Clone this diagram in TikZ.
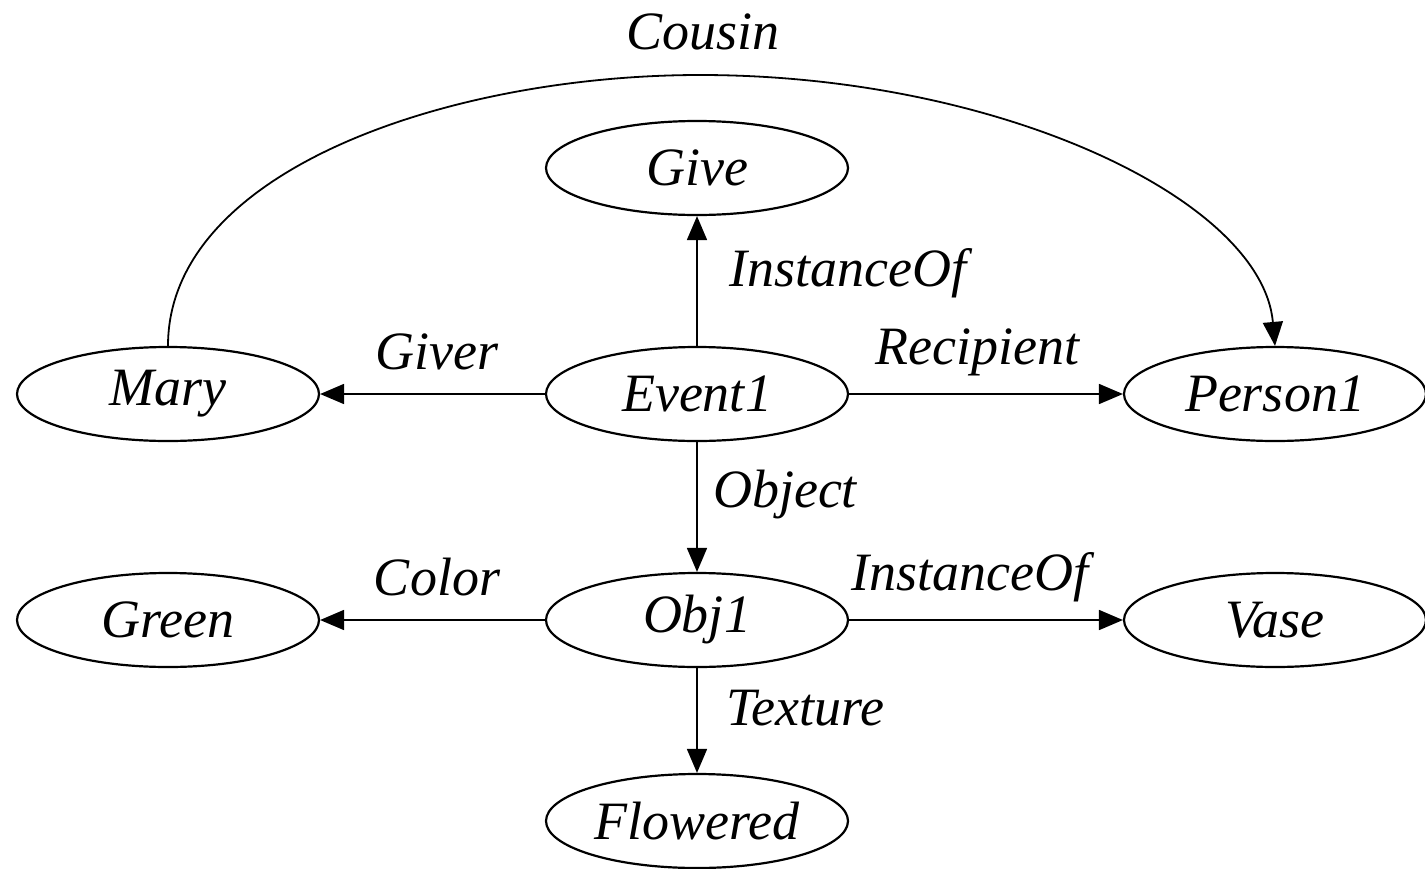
\documentclass[tikz,border=0pt]{standalone}
\usepackage{fontspec}
\setmainfont{Liberation Serif}
\usetikzlibrary{shapes.geometric,arrows.meta}
\begin{document}
\begin{tikzpicture}[x=0.5pt,y=-0.5pt,
  concept/.style={ellipse,draw,line width=1.1pt,minimum width=151pt,minimum height=47pt,inner sep=0pt,
    font=\fontsize{27}{32}\selectfont\itshape},
  rel/.style={font=\fontsize{27}{32}\selectfont\itshape,inner sep=0pt},
  edge/.style={line width=0.9pt,-{Triangle[length=12pt,width=10pt]}}]
\useasboundingbox (0,0) rectangle (1425,868);
% concept nodes
\node[concept] (give)     at (697,168) {Give};
\node[concept] (mary)     at (168,394) {Mary};
\node[concept] (event)    at (697,394) {Event1};
\node[concept] (person)   at (1275,394) {Person1};
\node[concept] (green)    at (168,620) {Green};
\node[concept] (obj)      at (697,620) {Obj1};
\node[concept] (vase)     at (1275,620) {Vase};
\node[concept] (flowered) at (697,821) {Flowered};
% relations
\draw[edge] (event) -- (give);
\draw[edge] (event) -- (mary);
\draw[edge] (event) -- (person);
\draw[edge] (event) -- (obj);
\draw[edge] (obj) -- (green);
\draw[edge] (obj) -- (vase);
\draw[edge] (obj) -- (flowered);
\coordinate (peak) at (700,75);
\draw[edge] (mary.north) .. controls (168,170) and (450,75) .. (peak)
  .. controls (1000,75) and (1262,200) .. (person.north);
% relation labels
\node[rel] (lcousin)  at (703,32)  {Cousin};
\node[rel] (linst1)   at (848,273) {InstanceOf};
\node[rel] (lgiver)   at (437,352) {Giver};
\node[rel] (lrecip)   at (977,352) {Recipient};
\node[rel] (lobject)  at (785,495) {Object};
\node[rel] (lcolor)   at (437,577) {Color};
\node[rel] (linst2)   at (970,577) {InstanceOf};
\node[rel] (ltexture) at (805,708) {Texture};
\end{tikzpicture}
\end{document}
